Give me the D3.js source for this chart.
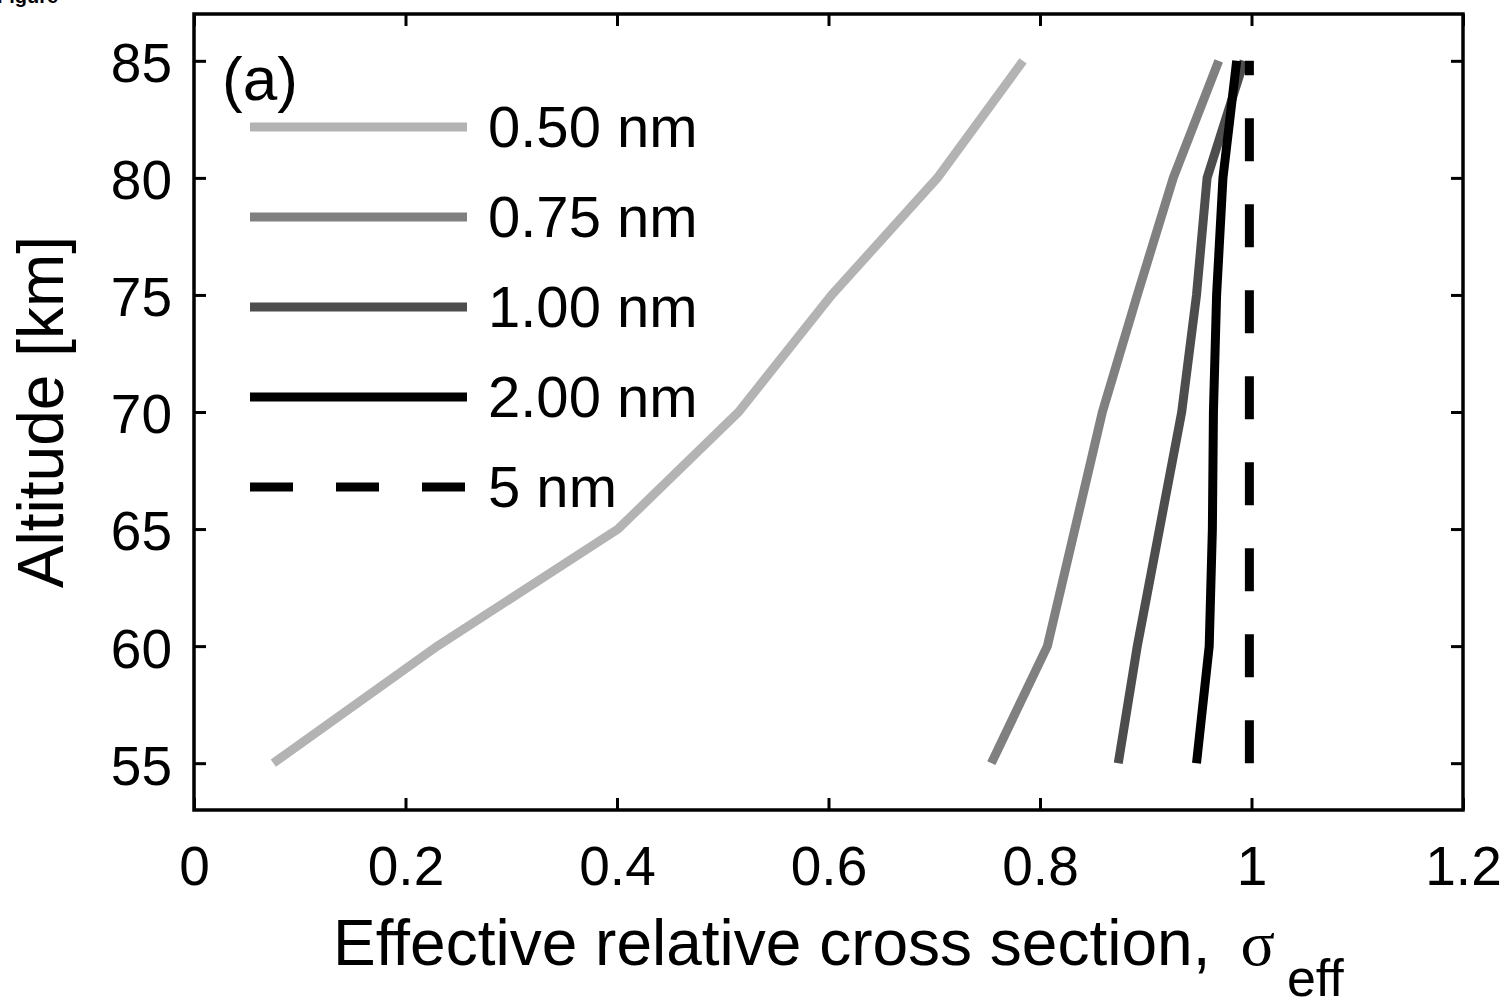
<!DOCTYPE html>
<html>
<head>
<meta charset="utf-8">
<script src="https://cdn.jsdelivr.net/npm/d3@7"></script>
<style>
  body { margin: 0; background: #fff; }
  svg { display: block; }
  text { font-family: "Liberation Sans", Arial, Helvetica, sans-serif; fill: #000; }
</style>
</head>
<body>
<div id="chart"></div>
<script>
// altitudes [km] and effective relative cross sections
const altitudes = [55, 60, 65, 70, 75, 80, 85];
const sigma050 = [0.075, 0.230, 0.401, 0.515, 0.603, 0.703, 0.784];
const sigma075 = [0.754, 0.807, 0.833, 0.859, 0.892, 0.926, 0.969];
const sigma100 = [0.874, 0.892, 0.913, 0.934, 0.948, 0.958, 0.993];
const sigma200 = [0.948, 0.960, 0.963, 0.964, 0.967, 0.973, 0.986];
const sigma5 = [0.998, 0.998, 0.998, 0.998, 0.998, 0.998, 0.998];

const seriesNames = ['0.50 nm', '0.75 nm', '1.00 nm', '2.00 nm', '5 nm'];
const seriesValues = [sigma050, sigma075, sigma100, sigma200, sigma5];
const seriesColors = ['#b3b3b3', '#808080', '#4d4d4d', '#000000', '#000000'];
const seriesDash = [null, null, null, null, '43,43'];

const xTicks = [0, 0.2, 0.4, 0.6, 0.8, 1, 1.2];
const yTicks = [55, 60, 65, 70, 75, 80, 85];

const width = 1509, height = 1001;
const plotLeft = 194, plotRight = 1463, plotTop = 14, plotBottom = 810;

const svg = d3.select('#chart').append('svg')
  .attr('width', width)
  .attr('height', height);

const x = d3.scaleLinear().domain([0, 1.2]).range([plotLeft, plotRight]);
const y = d3.scaleLinear().domain([53, 87]).range([plotBottom, plotTop]);

// bottom axis with labels
const gx = svg.append('g')
  .attr('transform', `translate(0,${plotBottom})`)
  .call(d3.axisBottom(x).tickValues(xTicks).tickSize(-12).tickPadding(36)
    .tickFormat(d => String(+d.toFixed(1))));
gx.selectAll('text').style('font-size', '55px');

// left axis with labels
const gy = svg.append('g')
  .attr('transform', `translate(${plotLeft},0)`)
  .call(d3.axisLeft(y).tickValues(yTicks).tickSize(-12).tickPadding(22));
gy.selectAll('text').style('font-size', '55px').attr('dy', '0.38em');

// top & right: ticks only
const gt = svg.append('g')
  .attr('transform', `translate(0,${plotTop})`)
  .call(d3.axisTop(x).tickValues(xTicks).tickSize(-12).tickFormat(''));
const gr = svg.append('g')
  .attr('transform', `translate(${plotRight},0)`)
  .call(d3.axisRight(y).tickValues(yTicks).tickSize(-12).tickFormat(''));

[gx, gy, gt, gr].forEach(g => {
  g.select('.domain').remove();
  g.selectAll('.tick line').attr('stroke', '#000').attr('stroke-width', 3);
});

svg.append('rect')
  .attr('x', plotLeft).attr('y', plotTop)
  .attr('width', plotRight - plotLeft).attr('height', plotBottom - plotTop)
  .attr('fill', 'none').attr('stroke', '#000').attr('stroke-width', 3.5);

// curves
const line = d3.line()
  .x(d => x(d[0]))
  .y(d => y(d[1]));

seriesValues.forEach((vals, i) => {
  const pts = vals.map((v, k) => [v, altitudes[k]]);
  svg.append('path')
    .datum(pts)
    .attr('d', line)
    .attr('fill', 'none')
    .attr('stroke', seriesColors[i])
    .attr('stroke-width', 9)
    .attr('stroke-linejoin', 'miter')
    .attr('stroke-dasharray', seriesDash[i]);
});

// legend
const legendX0 = 250, legendX1 = 467, legendY0 = 127, legendStep = 90;
seriesNames.forEach((name, i) => {
  const ly = legendY0 + i * legendStep;
  svg.append('line')
    .attr('x1', legendX0).attr('x2', legendX1)
    .attr('y1', ly).attr('y2', ly)
    .attr('stroke', seriesColors[i])
    .attr('stroke-width', 9)
    .attr('stroke-dasharray', seriesDash[i]);
  svg.append('text')
    .attr('x', 488).attr('y', ly + 20)
    .style('font-size', '58px')
    .text(name);
});

// panel label
svg.append('text')
  .attr('x', 222).attr('y', 100)
  .style('font-size', '62px')
  .text('(a)');

// axis titles
const xt = svg.append('text')
  .attr('x', 333).attr('y', 965)
  .style('font-size', '64px');
xt.append('tspan').text('Effective relative cross section,');
xt.append('tspan').attr('dx', 30)
  .style('font-family', '"Liberation Serif", "Times New Roman", serif').text('σ');
xt.append('tspan').attr('dx', 12).attr('dy', 31).style('font-size', '52px').text('eff');

svg.append('text')
  .attr('transform', `translate(63,${(plotTop + plotBottom) / 2}) rotate(-90)`)
  .attr('text-anchor', 'middle')
  .style('font-size', '64px')
  .text('Altitude [km]');

// clipped caption fragment at top-left corner
svg.append('text')
  .attr('x', -3).attr('y', 3)
  .style('font-size', '20px').style('font-weight', 'bold')
  .text('Figure');
</script>
</body>
</html>
